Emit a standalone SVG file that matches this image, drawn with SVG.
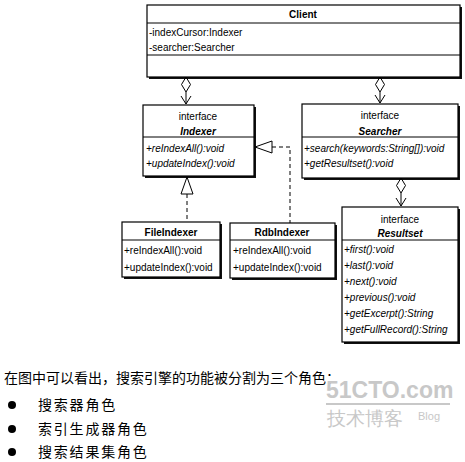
<svg xmlns="http://www.w3.org/2000/svg" width="465" height="462" viewBox="0 0 465 462">
<defs>
<style>
.box{fill:#fff;stroke:#000;stroke-width:1.2}
.sh{fill:#111}
.sep{stroke:#000;stroke-width:1}
.t{font-family:"Liberation Sans",Arial,sans-serif;font-size:10px;fill:#000}
.i{font-style:italic}
.b{font-weight:bold}
.c{text-anchor:middle}
.ln{stroke:#000;stroke-width:1;fill:none}
.dash{stroke:#000;stroke-width:1;fill:none;stroke-dasharray:4 3}
.cn{font-family:"Noto Sans CJK SC","Liberation Sans",sans-serif;font-size:14px;fill:#000}
.wm{font-family:"Liberation Sans",Arial,sans-serif;fill:#c8c8c8}
</style>
<marker id="open" markerWidth="12" markerHeight="12" refX="10" refY="6" orient="auto" markerUnits="userSpaceOnUse">
<path d="M2,1 L10,6 L2,11" fill="none" stroke="#000" stroke-width="1"/>
</marker>
</defs>

<g id="client">
<rect class="sh" x="149" y="7" width="313" height="72"/>
<rect class="box" x="147" y="5" width="313" height="72"/>
<line class="sep" x1="147" y1="23" x2="460" y2="23"/>
<line class="sep" x1="147" y1="55" x2="460" y2="55"/>
<text class="t b c" x="303" y="18">Client</text>
<text class="t" x="149" y="36">-indexCursor:Indexer</text>
<text class="t" x="149" y="51">-searcher:Searcher</text>
</g>

<g id="indexer">
<rect class="sh" x="145" y="107" width="111" height="71"/>
<rect class="box" x="143" y="105" width="111" height="71"/>
<line class="sep" x1="143" y1="137" x2="254" y2="137"/>
<text class="t c" x="198" y="120">interface</text>
<text class="t i b c" x="198" y="135">Indexer</text>
<text class="t i" x="146" y="152">+reIndexAll():void</text>
<text class="t i" x="146" y="167">+updateIndex():void</text>
</g>

<g id="searcher">
<rect class="sh" x="304" y="106" width="156" height="74"/>
<rect class="box" x="302" y="104" width="156" height="74"/>
<line class="sep" x1="302" y1="137" x2="458" y2="137"/>
<text class="t c" x="380" y="119">interface</text>
<text class="t i b c" x="380" y="135">Searcher</text>
<text class="t i" x="304" y="152">+search(keywords:String[]):void</text>
<text class="t i" x="304" y="167">+getResultset():void</text>
</g>

<g id="fileindexer">
<rect class="sh" x="124" y="224" width="98" height="55"/>
<rect class="box" x="122" y="222" width="98" height="55"/>
<line class="sep" x1="122" y1="240" x2="220" y2="240"/>
<text class="t b c" x="171" y="236">FileIndexer</text>
<text class="t" x="124" y="254">+reIndexAll():void</text>
<text class="t" x="124" y="271">+updateIndex():void</text>
</g>

<g id="rdbindexer">
<rect class="sh" x="232" y="225" width="105" height="55"/>
<rect class="box" x="230" y="223" width="105" height="55"/>
<line class="sep" x1="230" y1="240" x2="335" y2="240"/>
<text class="t b c" x="282" y="236">RdbIndexer</text>
<text class="t" x="233" y="254">+reIndexAll():void</text>
<text class="t" x="233" y="271">+updateIndex():void</text>
</g>

<g id="resultset">
<rect class="sh" x="344" y="209" width="116" height="135"/>
<rect class="box" x="342" y="207" width="116" height="135"/>
<line class="sep" x1="342" y1="240" x2="458" y2="240"/>
<text class="t c" x="400" y="223">interface</text>
<text class="t i b c" x="400" y="237">Resultset</text>
<text class="t i" x="344" y="253">+first():void</text>
<text class="t i" x="344" y="269">+last():void</text>
<text class="t i" x="344" y="285">+next():void</text>
<text class="t i" x="344" y="301">+previous():void</text>
<text class="t i" x="344" y="317">+getExcerpt():String</text>
<text class="t i" x="344" y="333">+getFullRecord():String</text>
</g>

<g id="connectors">
<path class="ln" d="M186,77 L190.5,84.5 L186,92 L181.5,84.5 Z"/>
<line class="ln" x1="186" y1="92" x2="186" y2="104" marker-end="url(#open)"/>
<path class="ln" d="M380,77 L384.5,84.5 L380,92 L375.5,84.5 Z"/>
<line class="ln" x1="380" y1="92" x2="380" y2="103" marker-end="url(#open)"/>
<path class="ln" d="M401,178 L405.5,185.5 L401,193 L396.5,185.5 Z"/>
<line class="ln" x1="401" y1="193" x2="401" y2="206" marker-end="url(#open)"/>
<path class="ln" d="M187,177 L193,194 L181,194 Z" fill="#fff"/>
<line class="dash" x1="187" y1="194" x2="187" y2="222"/>
<path class="ln" d="M255,147 L272,141 L272,153 Z" fill="#fff"/>
<path class="dash" d="M272,147 L290,147 L290,223"/>
</g>

<g id="text">
<text class="cn" x="4" y="383">在图中可以看出，搜索引擎的功能被分割为三个角色：</text>
<circle cx="12" cy="405" r="4"/>
<circle cx="12" cy="429" r="4"/>
<circle cx="12" cy="452" r="4"/>
<text class="cn" x="38" y="410" letter-spacing="1.8">搜索器角色</text>
<text class="cn" x="38" y="434" letter-spacing="1.8">索引生成器角色</text>
<text class="cn" x="38" y="457" letter-spacing="1.8">搜索结果集角色</text>
</g>

<g id="watermark">
<text class="wm" x="326" y="398" font-size="23" font-weight="bold">51CTO.com</text>
<line x1="326" y1="404" x2="450" y2="404" stroke="#c8c8c8" stroke-width="2"/>
<text class="wm" x="327" y="425" font-size="19" font-family="Noto Sans CJK SC,sans-serif">技术博客</text>
<text class="wm" x="418" y="420" font-size="11">Blog</text>
</g>
</svg>
